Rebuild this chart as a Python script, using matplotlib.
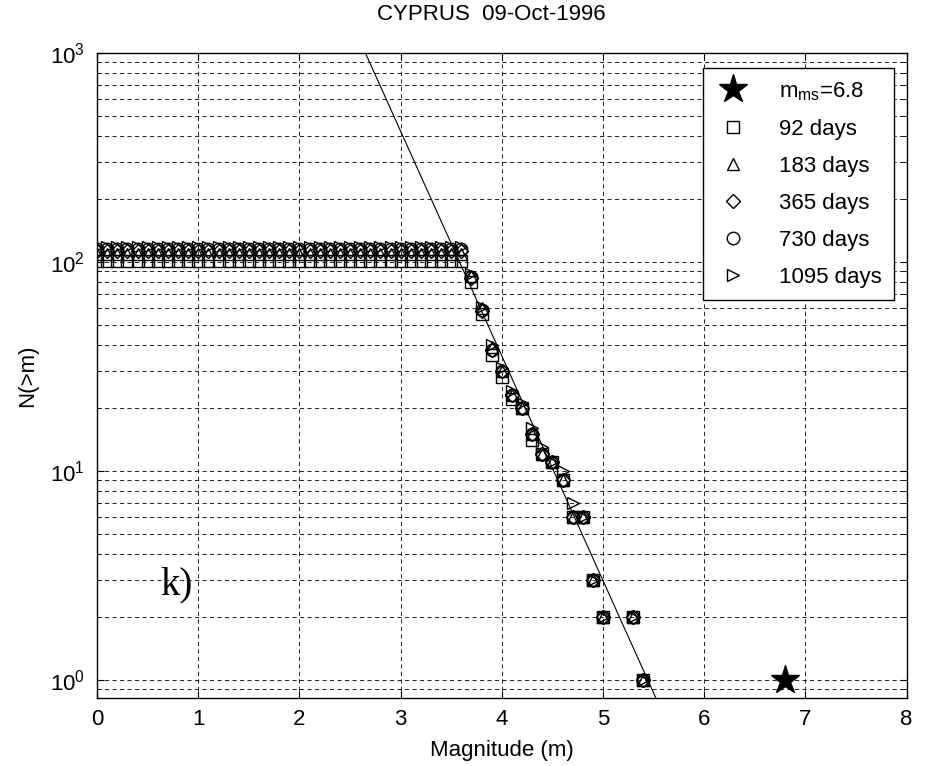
import numpy as np
import matplotlib.pyplot as plt
from matplotlib.ticker import LogLocator, NullFormatter, FixedLocator

plt.rcParams['font.family'] = ['Liberation Sans', 'DejaVu Sans']

# Magnitude bins with cumulative counts N(>=m)
mags = [0.0, 0.1, 0.2, 0.3, 0.4, 0.5, 0.6, 0.7, 0.8, 0.9,
        1.0, 1.1, 1.2, 1.3, 1.4, 1.5, 1.6, 1.7, 1.8, 1.9,
        2.0, 2.1, 2.2, 2.3, 2.4, 2.5, 2.6, 2.7, 2.8, 2.9,
        3.0, 3.1, 3.2, 3.3, 3.4, 3.5, 3.6,
        3.7, 3.8, 3.9, 4.0, 4.1, 4.2, 4.3, 4.4, 4.5, 4.6,
        4.7, 4.8, 4.9, 5.0, 5.3, 5.4]

n_92 = [101, 101, 101, 101, 101, 101, 101, 101, 101, 101,
        101, 101, 101, 101, 101, 101, 101, 101, 101, 101,
        101, 101, 101, 101, 101, 101, 101, 101, 101, 101,
        101, 101, 101, 101, 101, 101, 101,
        80, 56, 36, 28, 22, 20, 14, 12, 11, 9,
        6, 6, 3, 2, 2, 1]
n_183 = [109, 109, 109, 109, 109, 109, 109, 109, 109, 109,
         109, 109, 109, 109, 109, 109, 109, 109, 109, 109,
         109, 109, 109, 109, 109, 109, 109, 109, 109, 109,
         109, 109, 109, 109, 109, 109, 109,
         86, 60, 39, 30, 23, 20, 15, 12, 11, 9,
         6, 6, 3, 2, 2, 1]
n_365 = [113, 113, 113, 113, 113, 113, 113, 113, 113, 113,
         113, 113, 113, 113, 113, 113, 113, 113, 113, 113,
         113, 113, 113, 113, 113, 113, 113, 113, 113, 113,
         113, 113, 113, 113, 113, 113, 113,
         84, 58, 38, 30, 23, 20, 15, 12, 11, 9,
         6, 6, 3, 2, 2, 1]
n_730 = [115, 115, 115, 115, 115, 115, 115, 115, 115, 115,
         115, 115, 115, 115, 115, 115, 115, 115, 115, 115,
         115, 115, 115, 115, 115, 115, 115, 115, 115, 115,
         115, 115, 115, 115, 115, 115, 115,
         85, 59, 38, 30, 23, 20, 15, 12, 11, 9,
         6, 6, 3, 2, 2, 1]
n_1095 = [118, 118, 118, 118, 118, 118, 118, 118, 118, 118,
          118, 118, 118, 118, 118, 118, 118, 118, 118, 118,
          118, 118, 118, 118, 118, 118, 118, 118, 118, 118,
          118, 118, 118, 118, 118, 118, 118,
          87, 61, 40, 31, 24, 21, 16, 13, 11, 10,
          7, 6, 3, 2, 2, 1]

# Mainshock
m_ms = 6.8
n_ms = 1

# Gutenberg-Richter fit: log10 N = a - b*m
a_val = 5.85
b_val = 1.075

fig = plt.figure(figsize=(9.25, 7.66), dpi=100)
ax = fig.add_axes([0.105, 0.089, 0.875, 0.842])

mk = dict(ls='none', mfc='none', mec='k', mew=1.0, ms=9)
ax.plot([m_ms], [n_ms], ls='none', marker='*', color='k', ms=21,
        label=r'$\mathregular{m_{ms}}$=6.8')
ax.plot(mags, n_92, marker='s', label='92 days', **mk)
ax.plot(mags, n_183, marker='^', label='183 days', **mk)
ax.plot(mags, n_365, marker='D', label='365 days', **{**mk, 'ms': 7})
ax.plot(mags, n_730, marker='o', label='730 days', **mk)
ax.plot(mags, n_1095, marker='>', label='1095 days', **mk)

mfit = np.array([2.0, 6.0])
ax.plot(mfit, 10 ** (a_val - b_val * mfit), color='k', lw=0.8)

ax.set_yscale('log')
ax.set_xlim(0, 8)
ax.set_ylim(0.82, 1000)
ax.xaxis.set_major_locator(FixedLocator(range(9)))
ax.yaxis.set_major_locator(LogLocator(base=10, numticks=10))
ax.yaxis.set_minor_locator(LogLocator(base=10, subs=np.arange(2, 10), numticks=20))
ax.yaxis.set_minor_formatter(NullFormatter())

dash = (0, (5, 4))
ax.grid(True, which='major', axis='both', color='k', lw=0.6, ls=dash)
ax.grid(True, which='minor', axis='y', color='k', lw=0.6, ls=dash)

ax.tick_params(which='both', direction='in', top=True, right=True, labelsize=16)
ax.tick_params(which='major', length=5)
ax.tick_params(which='minor', length=3)
ax.tick_params(axis='x', pad=8)
ax.tick_params(axis='y', pad=9)
for s in ax.spines.values():
    s.set_linewidth(1.0)

ax.set_title('CYPRUS  09-Oct-1996', fontsize=16, pad=24, x=0.487)
ax.set_xlabel('Magnitude (m)', fontsize=16, labelpad=7)
ax.set_ylabel('N(>m)', fontsize=16, labelpad=8)

ax.text(0.62, 2.85, 'k)', fontsize=28, family='Liberation Serif', va='center', ha='left')

leg = ax.legend(loc='upper right', bbox_to_anchor=(0.985, 0.977), borderaxespad=0,
                fontsize=16, fancybox=False, framealpha=1, edgecolor='k',
                handletextpad=1.3, labelspacing=0.72, borderpad=0.55,
                handlelength=1.6, numpoints=1)
leg.get_frame().set_linewidth(1.0)

fig.savefig('out.png', dpi=100)
